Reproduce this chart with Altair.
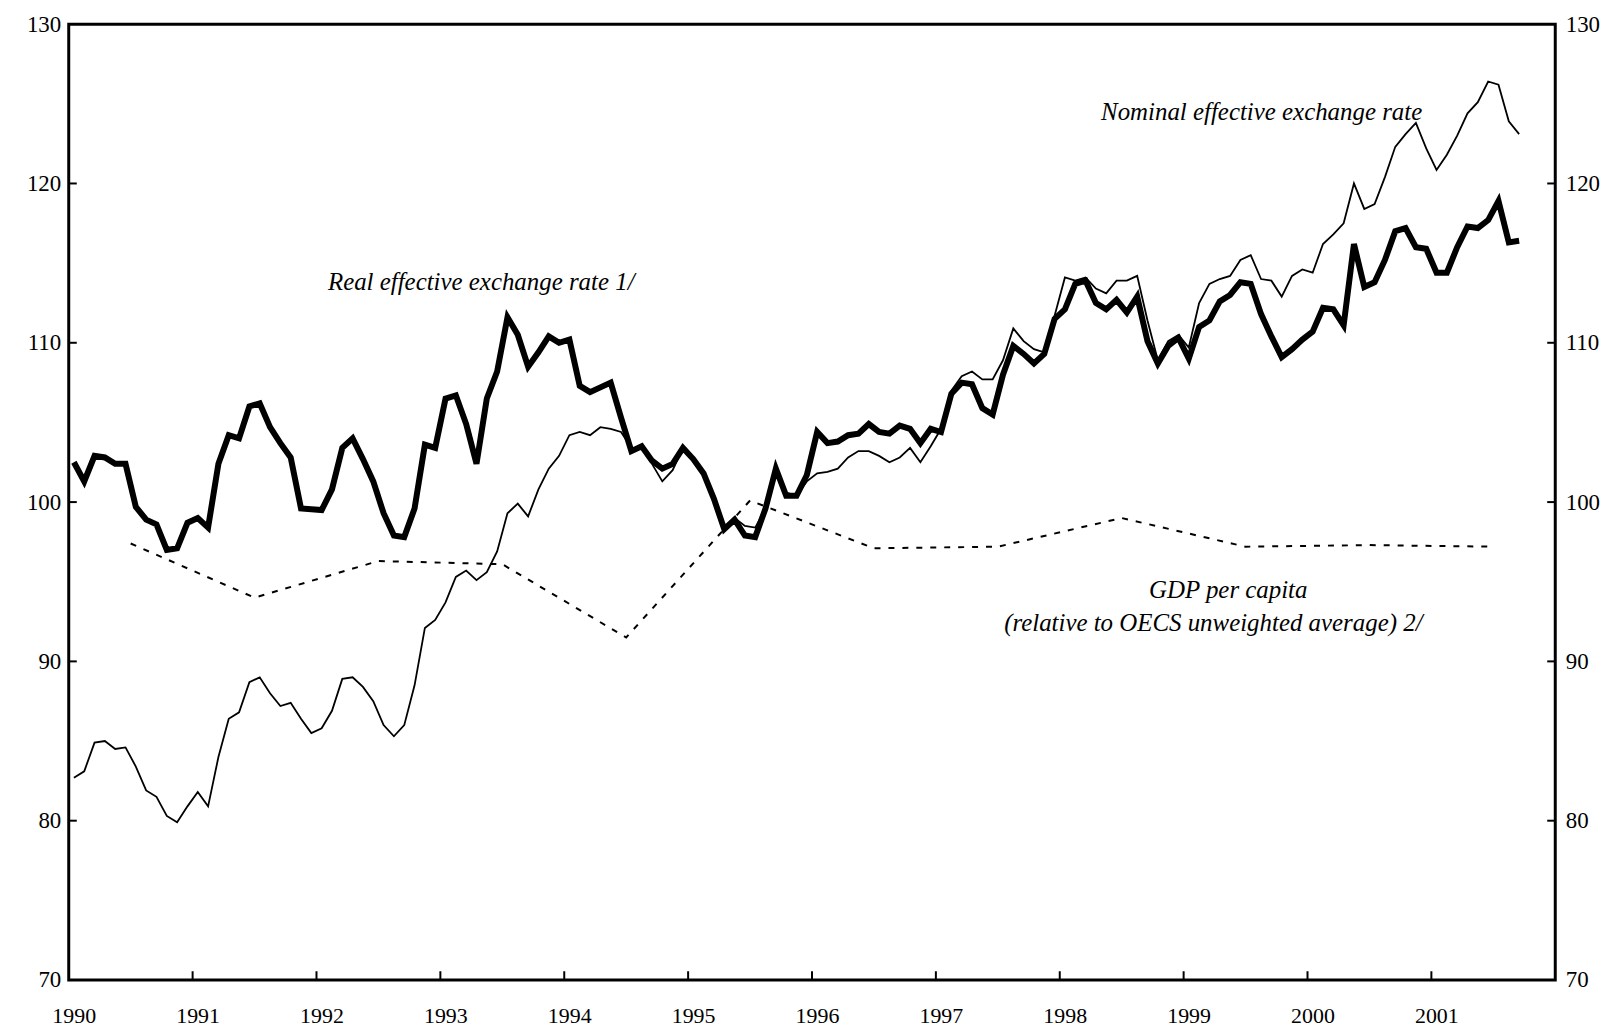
import altair as alt
import pandas as pd

# Real effective exchange rate (monthly, Jan 1990 - Sep 2001)
reer = [102.5, 101.3, 102.9, 102.8, 102.4, 102.4, 99.7, 98.9, 98.6, 97.0, 97.1, 98.7,
        99.0, 98.4, 102.4, 104.2, 104.0, 106.0, 106.2, 104.7, 103.7, 102.8, 99.6, 99.55,
        99.5, 100.8, 103.4, 104.0, 102.7, 101.3, 99.3, 97.9, 97.8, 99.6, 103.6, 103.4,
        106.5, 106.7, 104.9, 102.4, 106.5, 108.2, 111.6, 110.5, 108.5, 109.4, 110.4, 110.0,
        110.2, 107.3, 106.9, 107.2, 107.5, 105.3, 103.2, 103.5, 102.6, 102.1, 102.4, 103.4,
        102.7, 101.8, 100.2, 98.3, 98.9, 97.9, 97.8, 99.6, 102.1, 100.4, 100.4, 101.7,
        104.4, 103.7, 103.8, 104.2, 104.3, 104.9, 104.4, 104.3, 104.8, 104.6, 103.7, 104.6,
        104.4, 106.8, 107.5, 107.4, 105.9, 105.5, 108.0, 109.8, 109.3, 108.7, 109.3, 111.5,
        112.1, 113.7, 113.9, 112.5, 112.1, 112.7, 111.9, 112.9, 110.1, 108.7, 109.8, 110.3,
        109.0, 111.0, 111.4, 112.6, 113.0, 113.8, 113.7, 111.8, 110.4, 109.1, 109.6, 110.2,
        110.7, 112.2, 112.1, 111.1, 116.2, 113.5, 113.8, 115.2, 117.0, 117.2, 116.0, 115.9,
        114.4, 114.4, 116.0, 117.3, 117.2, 117.7, 118.9, 116.3, 116.4]

# Nominal effective exchange rate (monthly, Jan 1990 - Sep 2001)
neer = [82.7, 83.1, 84.9, 85.0, 84.5, 84.6, 83.4, 81.9, 81.5, 80.3, 79.9, 80.9,
        81.8, 80.9, 84.0, 86.4, 86.8, 88.7, 89.0, 88.0, 87.2, 87.4, 86.4, 85.5,
        85.8, 86.9, 88.9, 89.0, 88.4, 87.5, 86.0, 85.3, 86.0, 88.5, 92.1, 92.6,
        93.7, 95.3, 95.7, 95.1, 95.6, 96.9, 99.3, 99.9, 99.1, 100.8, 102.1, 102.9,
        104.2, 104.4, 104.2, 104.7, 104.6, 104.4, 103.4, 103.4, 102.4, 101.3, 102.0, 103.4,
        102.7, 101.8, 100.2, 98.4, 99.0, 98.5, 98.4, 99.6, 102.1, 100.6, 100.4, 101.3,
        101.8, 101.9, 102.1, 102.8, 103.2, 103.2, 102.9, 102.5, 102.8, 103.4, 102.5, 103.5,
        104.6, 107.0, 107.9, 108.2, 107.7, 107.7, 108.9, 110.9, 110.1, 109.6, 109.4, 111.7,
        114.1, 113.9, 114.1, 113.4, 113.1, 113.9, 113.9, 114.2, 111.4, 108.9, 110.1, 110.5,
        109.7, 112.5, 113.7, 114.0, 114.2, 115.2, 115.5, 114.0, 113.9, 112.9, 114.2, 114.6,
        114.4, 116.2, 116.8, 117.5, 120.0, 118.4, 118.7, 120.4, 122.3, 123.1, 123.8, 122.2,
        120.85, 121.8, 123.0, 124.4, 125.1, 126.4, 126.2, 123.9, 123.1]

# GDP per capita relative to OECS unweighted average (annual, mid-year)
gdp_years = [1990.5, 1991.5, 1992.5, 1993.5, 1994.5, 1995.5, 1996.5, 1997.5, 1998.5, 1999.5, 2000.5, 2001.5]
gdp = [97.4, 94.0, 96.3, 96.1, 91.5, 100.1, 97.1, 97.2, 99.0, 97.2, 97.3, 97.2]

year_ticks = list(range(1990, 2002))
y_ticks = [70, 80, 90, 100, 110, 120, 130]

labels = ["Nominal effective exchange rate", "Real effective exchange rate 1/",
          "GDP per capita", "(relative to OECS unweighted average) 2/"]
label_t = [1999.63, 1993.33, 1999.36, 1999.24]
label_v = [124.5, 113.8, 94.5, 92.4]

FONT = "Liberation Serif"

n = len(reer)
monthly = pd.DataFrame({"t": [1990 + (i + 0.5) / 12 for i in range(n)], "reer": reer, "neer": neer})
gdp_df = pd.DataFrame({"t": gdp_years, "v": gdp})
lab_df = pd.DataFrame({"t": label_t, "v": label_v, "label": labels})

xticks_df = pd.DataFrame({"t": year_ticks[1:], "v": [70] * (len(year_ticks) - 1), "v2": [70.55] * (len(year_ticks) - 1)})
inner = y_ticks[1:-1]
lticks_df = pd.DataFrame({"t": [1990] * len(inner), "t2": [1990.065] * len(inner), "v": inner})
rticks_df = pd.DataFrame({"t": [2002] * len(inner), "t2": [2001.935] * len(inner), "v": inner})

xscale = alt.Scale(domain=[1990, 2002], nice=False, zero=False)
yscale = alt.Scale(domain=[70, 130], nice=False, zero=False)

X = alt.X("t:Q", scale=xscale, title=None,
          axis=alt.Axis(values=year_ticks, format="d", labelPadding=26, labelOffset=5,
                        labelFlush=False, labelFontSize=22))
Y = alt.Y("v:Q", scale=yscale, title=None,
          axis=alt.Axis(values=y_ticks, orient="left", labelPadding=8))
YR = alt.Y("v:Q", scale=yscale, title=None,
           axis=alt.Axis(values=y_ticks, orient="right", labelPadding=10))

neer_line = alt.Chart(monthly).mark_line(color="black", strokeWidth=1.8).encode(
    x=X, y=alt.Y("neer:Q", scale=yscale, title=None,
                 axis=alt.Axis(values=y_ticks, orient="left", labelPadding=8)))
reer_line = alt.Chart(monthly).mark_line(color="black", strokeWidth=6).encode(
    x=X, y=alt.Y("reer:Q", scale=yscale, title=None,
                 axis=alt.Axis(values=y_ticks, orient="left", labelPadding=8)))
gdp_line = alt.Chart(gdp_df).mark_line(color="black", strokeWidth=2, strokeDash=[6, 8]).encode(x=X, y=Y)

texts = alt.Chart(lab_df).mark_text(font=FONT, fontStyle="italic", fontSize=25, color="black",
                                    align="center", baseline="middle").encode(x=X, y=Y, text="label:N")

xticks = alt.Chart(xticks_df).mark_rule(color="black", strokeWidth=2).encode(x=X, y=Y, y2="v2:Q")
lticks = alt.Chart(lticks_df).mark_rule(color="black", strokeWidth=2).encode(x=X, x2="t2:Q", y=Y)
rticks = alt.Chart(rticks_df).mark_rule(color="black", strokeWidth=2).encode(x=X, x2="t2:Q", y=YR)

left = alt.layer(gdp_line, neer_line, reer_line, texts, xticks, lticks)

chart = alt.layer(left, rticks).resolve_scale(y="independent").properties(
    width=1493, height=960,
    padding={"left": 61, "top": 14, "right": 60, "bottom": 52},
    autosize=alt.AutoSizeParams(type="none"),
    background="white",
).configure_view(
    stroke="black", strokeWidth=3
).configure_axis(
    domain=False, grid=False, ticks=False, tickSize=0,
    labelFont=FONT, labelFontSize=23, labelColor="black",
)

chart.save("out.html", embed_options={"renderer": "svg", "actions": False})
